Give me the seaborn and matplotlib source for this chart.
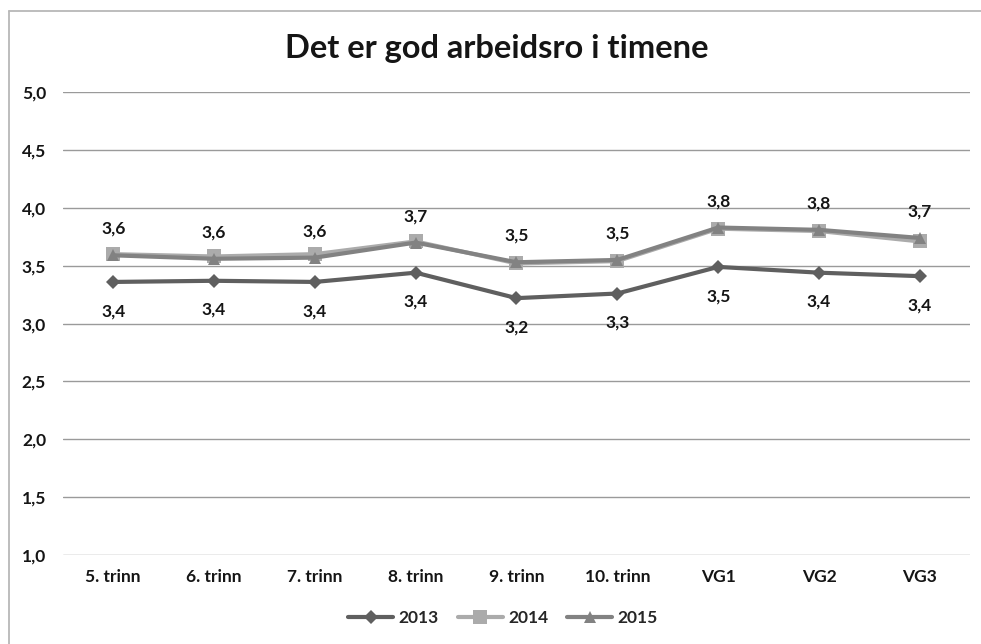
import pandas as pd
import numpy as np
import seaborn as sns
import matplotlib.pyplot as plt
from matplotlib.lines import Line2D

# Data
categories = ['5. trinn', '6. trinn', '7. trinn', '8. trinn', '9. trinn',
              '10. trinn', 'VG1', 'VG2', 'VG3']
values_2013 = [3.36, 3.37, 3.36, 3.44, 3.22, 3.26, 3.49, 3.44, 3.41]
values_2014 = [3.60, 3.58, 3.60, 3.71, 3.52, 3.54, 3.82, 3.80, 3.71]
values_2015 = [3.59, 3.56, 3.57, 3.70, 3.53, 3.55, 3.83, 3.81, 3.74]
years = ['2013', '2014', '2015']
yticks = [1.0, 1.5, 2.0, 2.5, 3.0, 3.5, 4.0, 4.5, 5.0]

df = pd.DataFrame({
    'trinn': categories * 3,
    'x': list(range(len(categories))) * 3,
    'verdi': values_2013 + values_2014 + values_2015,
    'år': [y for y in years for _ in categories],
})

sns.set_style('white')
plt.rcParams['font.family'] = ['Lato', 'DejaVu Sans']

colors = {'2013': '#5f5f5f', '2014': '#ababab', '2015': '#828282'}
markers = {'2013': 'D', '2014': 's', '2015': '^'}
sizes = {'2013': 7, '2014': 10, '2015': 9}
txt = '#151515'

fig = plt.figure(figsize=(9.81, 6.44), dpi=100)
ax = fig.add_axes([0.064, 0.138, 0.925, 0.719])

for yr in years:
    sub = df[df['år'] == yr]
    sns.lineplot(data=sub, x='x', y='verdi', ax=ax, color=colors[yr],
                 marker=markers[yr], markersize=sizes[yr], markeredgewidth=0,
                 linewidth=3, label=yr)

# data labels: 2015 above, 2013 below
for i, v in enumerate(values_2015):
    ax.annotate(f'{v:.1f}'.replace('.', ','), (i, v), xytext=(0, 19),
                textcoords='offset points', ha='center', va='center',
                fontsize=12.5, fontweight='bold', color=txt)
for i, v in enumerate(values_2013):
    ax.annotate(f'{v:.1f}'.replace('.', ','), (i, v), xytext=(0, -21),
                textcoords='offset points', ha='center', va='center',
                fontsize=12.5, fontweight='bold', color=txt)

ax.set_xlim(-0.5, len(categories) - 0.5)
ax.set_ylim(1.0, 5.0)
ax.set_yticks(yticks)
ax.set_yticklabels([f'{t:.1f}'.replace('.', ',') for t in yticks],
                   fontsize=12.5, fontweight='bold', color=txt)
ax.set_xticks(range(len(categories)))
ax.set_xticklabels(categories, fontsize=12.5, fontweight='bold', color=txt)
ax.tick_params(axis='y', length=0, pad=12)
ax.tick_params(axis='x', length=0, pad=10)
ax.yaxis.grid(True, color='#9a9a9a', linewidth=1)
ax.set_axisbelow(True)
for s in ax.spines.values():
    s.set_visible(False)
ax.set_xlabel('')
ax.set_ylabel('')

fig.text(0.506, 0.925, 'Det er god arbeidsro i timene', ha='center', va='center',
         fontsize=23.5, fontweight='bold', color=txt)

ax.legend(loc='upper center', bbox_to_anchor=(0.485, -0.085), ncol=3,
          frameon=False, handlelength=2.6, columnspacing=1.1, handletextpad=0.3,
          prop={'size': 12.5, 'weight': 'bold'})

# chart border (top and left edges visible in the reference)
fig.add_artist(Line2D([9 / 981, 1.0], [1 - 11 / 644, 1 - 11 / 644],
                      transform=fig.transFigure, color='#b8b8b8', linewidth=1.3))
fig.add_artist(Line2D([9 / 981, 9 / 981], [0.0, 1 - 11 / 644],
                      transform=fig.transFigure, color='#b8b8b8', linewidth=1.3))

fig.savefig('out.png', dpi=100)
